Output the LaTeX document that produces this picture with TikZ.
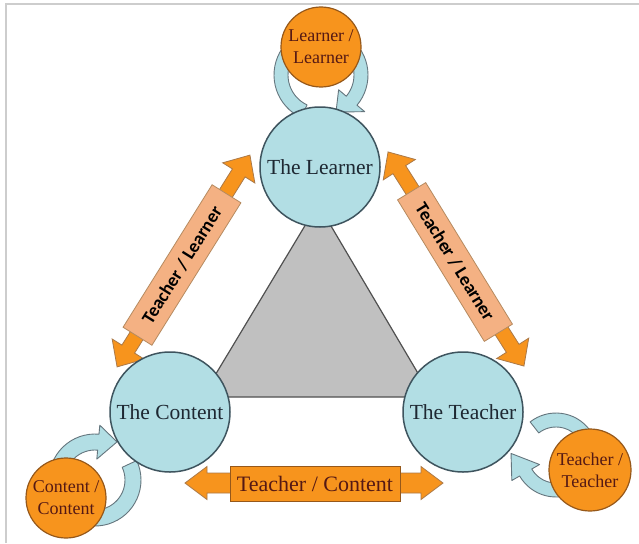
\documentclass[tikz,border=0pt]{standalone}
\usepackage{fontspec}
\setmainfont{Liberation Serif}
\newfontfamily\labelfont{Carlito}
\definecolor{cblue}{RGB}{178,222,228}
\definecolor{cline}{RGB}{62,84,94}
\definecolor{corange}{RGB}{247,148,29}
\definecolor{cobrd}{RGB}{150,88,26}
\definecolor{csalmon}{RGB}{244,177,131}
\definecolor{ctri}{RGB}{192,192,192}
\definecolor{ctriline}{RGB}{80,80,80}
\definecolor{ctext}{RGB}{30,40,50}
\definecolor{cotext}{RGB}{85,25,20}
\definecolor{cframe}{RGB}{205,205,205}
\tikzset{
  maincirc/.style={circle,draw=cline,fill=cblue,line width=1.5pt,minimum size=120pt,inner sep=0pt,
    text=ctext,font=\fontsize{21.5}{24}\selectfont},
  orcirc/.style={circle,draw=cobrd,fill=corange,line width=1.2pt,minimum size=80pt,inner sep=0pt,
    text=cotext,align=center,font=\fontsize{18}{22}\selectfont},
  loopband/.style={draw=cline!80,fill=cblue,line width=0.9pt,line join=round},
  orarrow/.style={draw=cobrd!80,fill=corange,line width=0.8pt,line join=miter},
  tlbox/.style={draw=cobrd!70,fill=csalmon,line width=0.8pt,minimum width=168pt,minimum height=34pt,
    inner sep=0pt,text=black,font=\labelfont\bfseries\fontsize{18.5}{20}\selectfont},
  bbox/.style={draw=cobrd,fill=corange,line width=1pt,minimum width=170pt,minimum height=35pt,
    inner sep=0pt,text=cotext,font=\fontsize{22}{24}\selectfont},
  tri/.style={draw=ctriline,fill=ctri,line width=1.2pt,line join=round}
}
% cx cy r halfwidth tailangle headangle tipangle headhalf tipoffset
\newcommand{\cyclearrow}[9]{%
  \filldraw[loopband] plot[domain=#5:#6,samples=50] ({#1+(#3+#4)*cos(\x)},{#2+(#3+#4)*sin(\x)})
   -- ({#1+(#3+#8)*cos(#6)},{#2+(#3+#8)*sin(#6)})
   -- ({#1+(#3+#9)*cos(#7)},{#2+(#3+#9)*sin(#7)})
   -- ({#1+(#3-#8)*cos(#6)},{#2+(#3-#8)*sin(#6)})
   -- plot[domain=#6:#5,samples=50] ({#1+(#3-#4)*cos(\x)},{#2+(#3-#4)*sin(\x)})
   -- cycle;}
% style cx cy angle halflength shafthalf headhalf headlength
\newcommand{\dblarrow}[8]{%
  \begin{scope}[shift={(#2,#3)},rotate=#4]
  \filldraw[#1] (-#5,0) -- ({-#5+#8},#7) -- ({-#5+#8},#6) -- ({#5-#8},#6) -- ({#5-#8},#7)
    -- (#5,0) -- ({#5-#8},-#7) -- ({#5-#8},-#6) -- ({-#5+#8},-#6) -- ({-#5+#8},-#7) -- cycle;
  \end{scope}}
\begin{document}
\begin{tikzpicture}[x=1pt,y=-1pt]
\useasboundingbox (0,0) rectangle (639,543);
\fill[white] (0,0) rectangle (639,543);
\draw[cframe,line width=2pt] (6,543) -- (6,4) -- (639,4);
% central triangle
\filldraw[tri] (318,204) -- (202,397) -- (432,397) -- cycle;
% self loops
\cyclearrow{321}{75}{40}{7}{115}{400}{68}{17}{0}
\cyclearrow{95}{480}{38}{8}{-25}{275}{300}{17}{6}
\cyclearrow{556}{455}{35}{7}{232}{510}{542}{16}{10}
% relation arrows
\dblarrow{orarrow}{183.5}{261}{57.9}{125}{7.5}{19}{21}
\dblarrow{orarrow}{456}{259}{-57.6}{126.8}{7.5}{19}{21}
\dblarrow{orarrow}{314}{483}{0}{129}{10}{16.5}{22}
\node[tlbox,rotate=58] (tlleft) at (182,265) {Teacher / Learner};
\node[tlbox,rotate=-58.5,minimum width=166pt,minimum height=33pt] (tlright) at (455,262) {Teacher / Learner};
\node[bbox] (tc) at (315,483.5) {Teacher / Content};
% main circles
\node[maincirc] (learner) at (320,167) {The Learner};
\node[maincirc] (content) at (170,412) {The Content};
\node[maincirc] (teacher) at (463,412) {The Teacher};
% self-relation circles
\node[orcirc] (ll) at (321,47) {Learner /\\Learner};
\node[orcirc] (cc) at (66,498) {Content /\\Content};
\node[orcirc,minimum size=82pt] (tt) at (590,470) {Teacher /\\Teacher};
\end{tikzpicture}
\end{document}
